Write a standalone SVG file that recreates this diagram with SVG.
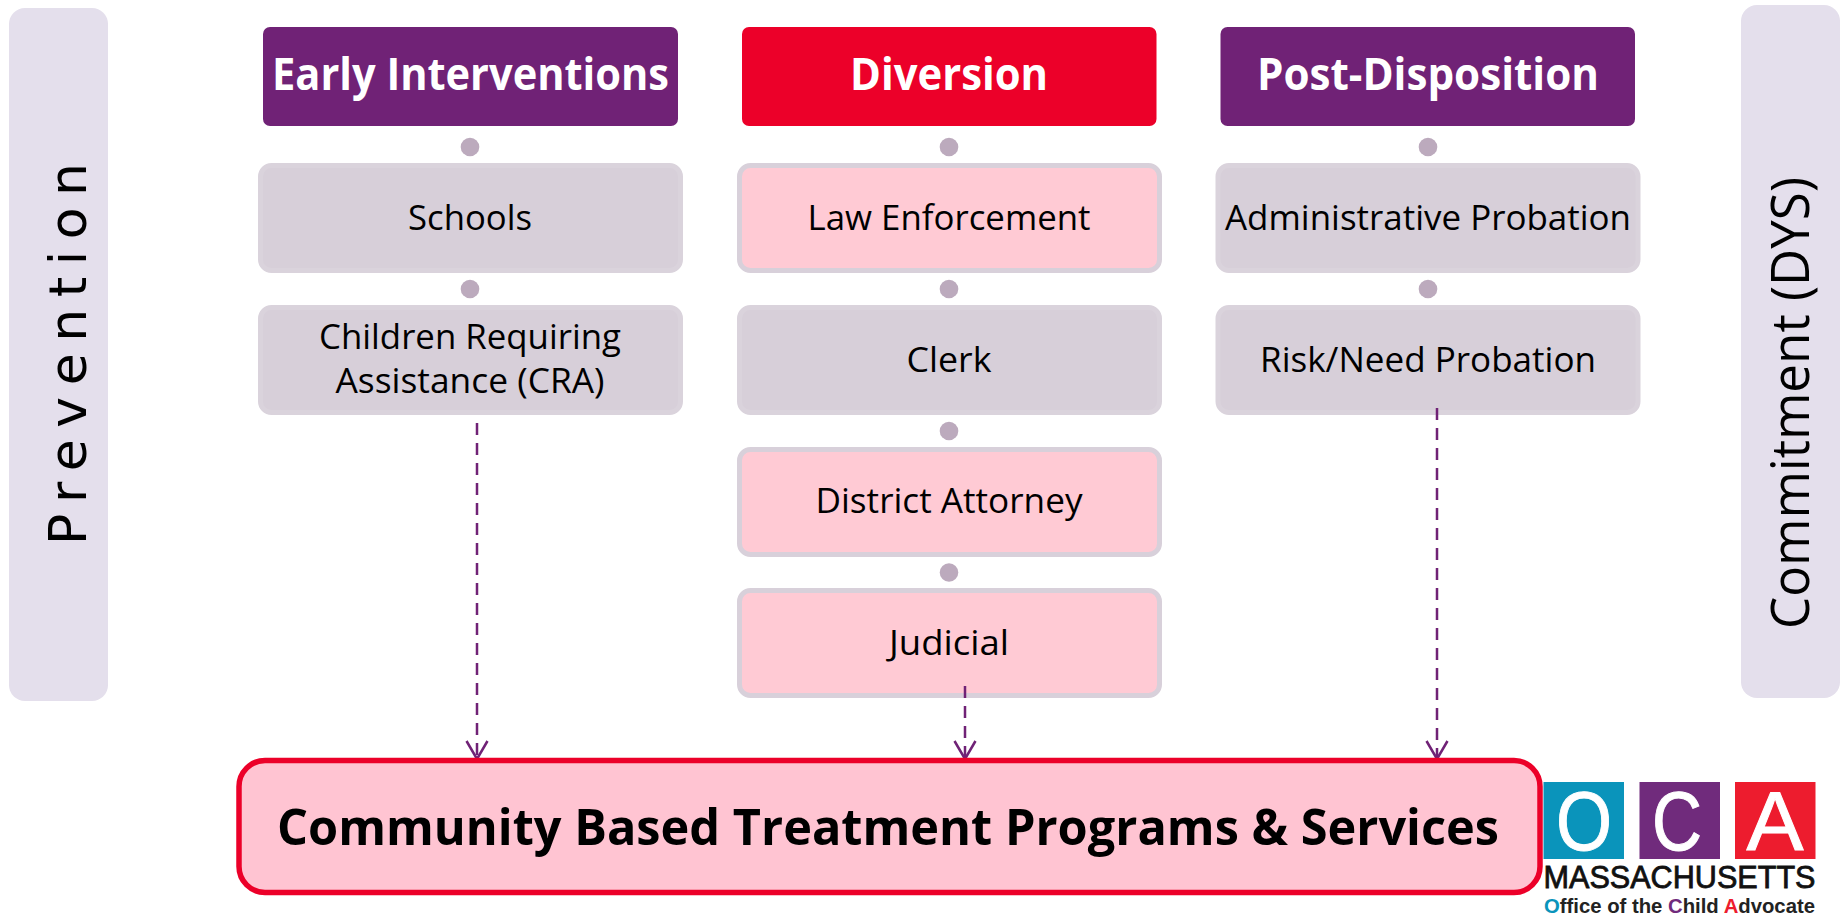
<svg xmlns="http://www.w3.org/2000/svg" width="1843" height="915" viewBox="0 0 1843 915">
<style>
text{font-family:"Open Sans","Liberation Sans",sans-serif;text-anchor:middle}
.band{fill:#e4dfec}
.hd{fill:#702276}
.hdr{fill:#ec0029}
.ht{fill:#fff;font-weight:700;font-size:44px}
.bx{fill:#d7cfd9;stroke:#dad3dc;stroke-width:5}
.pk{fill:#ffcad4;stroke:#d8d0da;stroke-width:5}
.t{fill:#000;font-size:35px}
.dot{fill:#bcaabd}
.c{fill:none;stroke:#702276;stroke-width:2.500;stroke-dasharray:12 8;marker-end:url(#a)}
.lg{fill:#fff;stroke:#fff;stroke-width:1;font-family:"Liberation Sans",sans-serif;font-size:84px}
</style>
<defs>
<marker id="a" markerUnits="userSpaceOnUse" markerWidth="26" markerHeight="26" refX="21" refY="12" orient="auto" viewBox="0 0 26 26">
<path d="M3 1.500L21 12L3 22.500" fill="none" stroke="#702276" stroke-width="2.500"/>
</marker>
</defs>
<g id="prevention"><rect class="band" x="9" y="8" width="99" height="693" rx="16"/>
<text transform="translate(86 545) rotate(-90)" font-size="52" fill="#000" style="font-family:'DejaVu Sans',sans-serif;text-anchor:start" textLength="382">Prevention</text></g>
<g id="commitment"><rect class="band" x="1741" y="5" width="99" height="693" rx="16"/>
<text transform="translate(1809 403) rotate(-90)" font-size="53" fill="#000" textLength="452" lengthAdjust="spacingAndGlyphs">Commitment (DYS)</text></g>

<g id="early"><rect class="hd" x="263" y="27" width="415" height="99" rx="7"/><text class="ht" x="470.500" y="90" textLength="397" lengthAdjust="spacingAndGlyphs">Early Interventions</text></g>
<g id="diversion"><rect class="hdr" x="742" y="27" width="414.500" height="99" rx="7"/><text class="ht" x="949" y="90" textLength="198" lengthAdjust="spacingAndGlyphs">Diversion</text></g>
<g id="post"><rect class="hd" x="1220.500" y="27" width="414.500" height="99" rx="7"/><text class="ht" x="1428" y="90" textLength="342" lengthAdjust="spacingAndGlyphs">Post-Disposition</text></g>

<g id="dots"><circle class="dot" cx="470" cy="147" r="9.300"/><circle class="dot" cx="470" cy="289" r="9.300"/><circle class="dot" cx="949" cy="147" r="9.300"/><circle class="dot" cx="949" cy="289" r="9.300"/><circle class="dot" cx="949" cy="431" r="9.300"/><circle class="dot" cx="949" cy="572.500" r="9.300"/><circle class="dot" cx="1428" cy="147" r="9.300"/><circle class="dot" cx="1428" cy="289" r="9.300"/></g>

<g id="schools"><rect class="bx" x="260.500" y="165.500" width="420" height="105" rx="11"/><text class="t" x="470" y="230" textLength="124" lengthAdjust="spacingAndGlyphs">Schools</text></g>
<g id="cra"><rect class="bx" x="260.500" y="307.500" width="420" height="105" rx="11"/><text class="t" x="470" y="349" textLength="302" lengthAdjust="spacingAndGlyphs">Children Requiring</text><text class="t" x="470" y="392.500" textLength="269" lengthAdjust="spacingAndGlyphs">Assistance (CRA)</text></g>
<g id="law"><rect class="pk" x="739.500" y="165.500" width="420" height="105" rx="11"/><text class="t" x="949" y="229.500" textLength="283" lengthAdjust="spacingAndGlyphs">Law Enforcement</text></g>
<g id="clerk"><rect class="bx" x="739.500" y="307.500" width="420" height="105" rx="11"/><text class="t" x="949" y="371.500" textLength="85" lengthAdjust="spacingAndGlyphs">Clerk</text></g>
<g id="da"><rect class="pk" x="739.500" y="449.500" width="420" height="105" rx="11"/><text class="t" x="949" y="513" textLength="267" lengthAdjust="spacingAndGlyphs">District Attorney</text></g>
<g id="judicial"><rect class="pk" x="739.500" y="590.500" width="420" height="105" rx="11"/><text class="t" x="949" y="655" textLength="120" lengthAdjust="spacingAndGlyphs">Judicial</text></g>
<g id="admin"><rect class="bx" x="1218" y="165.500" width="420" height="105" rx="11"/><text class="t" x="1428" y="229.500" textLength="406" lengthAdjust="spacingAndGlyphs">Administrative Probation</text></g>
<g id="risk"><rect class="bx" x="1218" y="307.500" width="420" height="105" rx="11"/><text class="t" x="1428" y="371.500" textLength="336" lengthAdjust="spacingAndGlyphs">Risk/Need Probation</text></g>

<g id="connectors">
<path class="c" d="M477 423V759"/>
<path class="c" d="M965 686V759"/>
<path class="c" d="M1437 408V759"/>
</g>

<g id="community"><rect x="239" y="760.500" width="1301" height="132" rx="26" fill="#ffc4d2" stroke="#ec0029" stroke-width="5.500"/><text x="888" y="845" font-size="50" font-weight="700" fill="#000" textLength="1222" lengthAdjust="spacingAndGlyphs">Community Based Treatment Programs &amp; Services</text></g>

<g id="logo">
<rect x="1543.500" y="782" width="80.500" height="77" fill="#0a94bb"/><rect x="1639.500" y="782" width="80.500" height="77" fill="#702b7c"/><rect x="1735" y="782" width="80.500" height="77" fill="#ed1c2e"/>
<text class="lg" x="1584" y="849.500" textLength="56" lengthAdjust="spacingAndGlyphs">O</text>
<text class="lg" x="1677" y="849.500" textLength="50" lengthAdjust="spacingAndGlyphs">C</text>
<text class="lg" x="1775" y="849.500" textLength="57" lengthAdjust="spacingAndGlyphs">A</text>
<text x="1679.500" y="888" font-size="31" fill="#111" stroke="#111" stroke-width=".8" style="font-family:'Liberation Sans',sans-serif" textLength="272" lengthAdjust="spacingAndGlyphs">MASSACHUSETTS</text>
<text x="1679.500" y="913" font-size="20" font-weight="700" fill="#222" style="font-family:'Liberation Sans',sans-serif" textLength="271" lengthAdjust="spacingAndGlyphs"><tspan fill="#0a94bb">O</tspan>ffice of the <tspan fill="#702b7c">C</tspan>hild <tspan fill="#ed1c2e">A</tspan>dvocate</text>
</g>
</svg>
